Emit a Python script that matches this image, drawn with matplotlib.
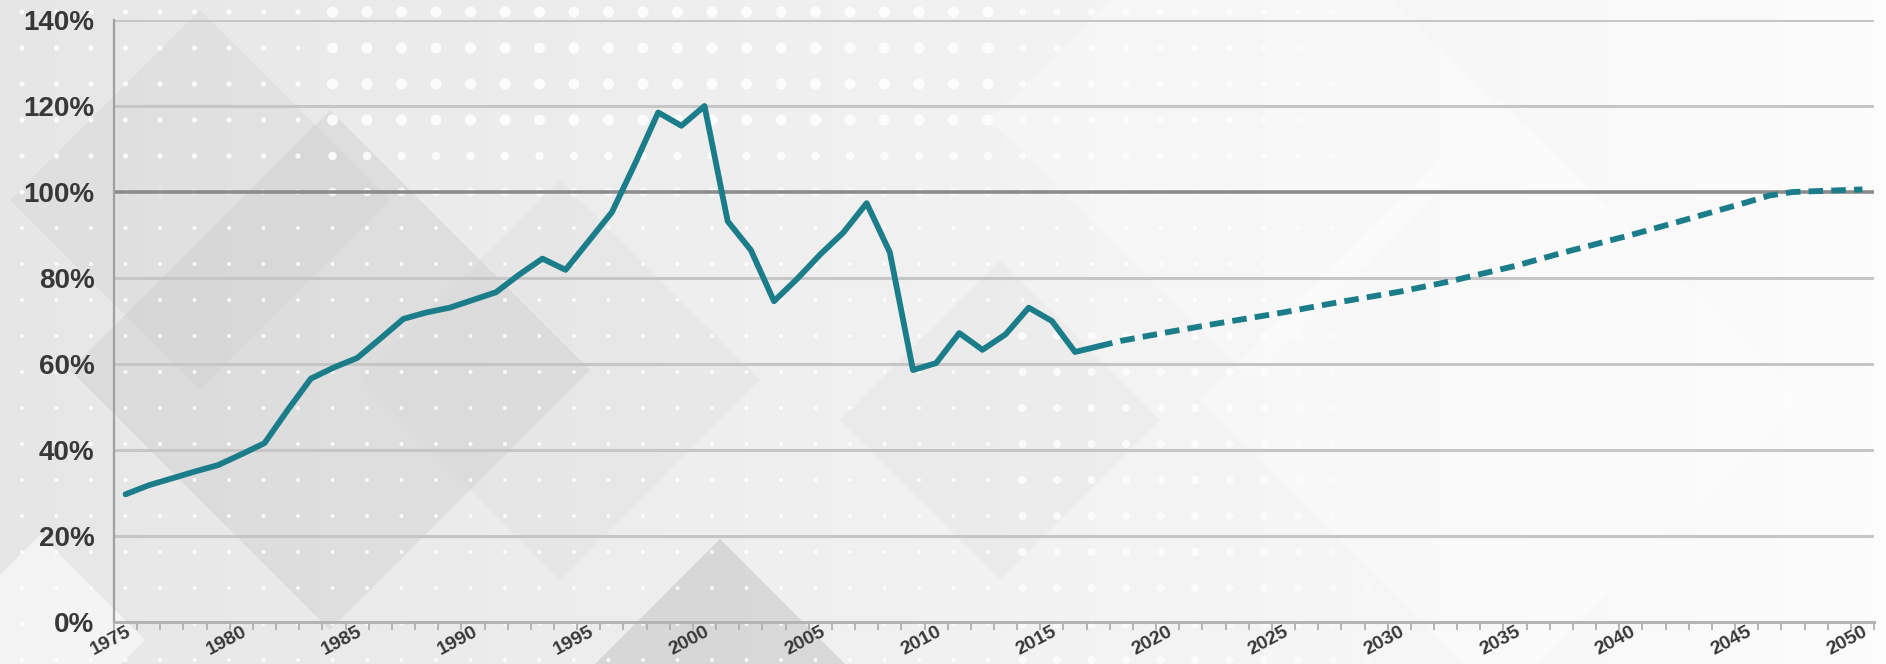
import numpy as np
import matplotlib
matplotlib.use("Agg")
import matplotlib.pyplot as plt
from matplotlib.patches import Polygon
from matplotlib.ticker import FixedLocator, FuncFormatter

plt.rcParams['font.family'] = ['Liberation Sans', 'DejaVu Sans']

# historical ratio (solid) and projection (dashed), in percent
hist_years = list(range(1975, 2018))
hist_vals = [29.7, 31.8, 33.4, 35.0, 36.5, 39.0, 41.6, 49.3, 56.6, 59.2,
             61.4, 65.9, 70.5, 72.0, 73.1, 74.9, 76.7, 80.8, 84.5, 81.9,
             88.6, 95.3, 106.6, 118.5, 115.4, 120.0, 93.2, 86.5, 74.6, 79.8,
             85.5, 90.6, 97.4, 86.0, 58.6, 60.2, 67.2, 63.3, 66.9, 73.1,
             70.0, 62.8, 64.1]
proj_years = [2017, 2018, 2020, 2022, 2025, 2027, 2030, 2032, 2035, 2037,
              2040, 2042, 2045, 2046, 2047, 2050]
proj_vals = [64.1, 65.4, 67.4, 69.3, 72.0, 74.0, 76.8, 79.0, 82.8, 85.8,
             90.0, 93.0, 97.6, 99.2, 100.0, 100.6]

yticks = [0, 20, 40, 60, 80, 100, 120, 140]
label_years = list(range(1975, 2051, 5))

W, H = 1886, 664
fig = plt.figure(figsize=(W / 100, H / 100), dpi=100)

# ---- decorative background ----
bg = fig.add_axes([0, 0, 1, 1], zorder=-5)
bg.set_xlim(0, W)
bg.set_ylim(H, 0)
bg.axis("off")
grad = np.linspace(0.90, 0.985, 256)
bg.imshow(np.tile(grad, (2, 1)), cmap="gray", vmin=0, vmax=1,
          extent=[0, W, H, 0], aspect="auto", interpolation="bicubic")


def diamond(cx, cy, r, color, alpha):
    pts = [(cx, cy - r), (cx + r, cy), (cx, cy + r), (cx - r, cy)]
    bg.add_patch(Polygon(pts, closed=True, fc=color, ec="none", alpha=alpha))


diamond(200, 200, 190, "#cfcfcf", 0.30)
diamond(330, 370, 260, "#c8c8c8", 0.35)
diamond(560, 380, 200, "#d0d0d0", 0.20)
diamond(1000, 420, 160, "#d6d6d6", 0.20)
diamond(720, 664, 125, "#bdbdbd", 0.45)
diamond(40, 640, 105, "#ffffff", 0.55)
diamond(1250, 120, 260, "#ffffff", 0.30)
diamond(1500, 400, 300, "#ffffff", 0.30)

# dot texture (white dots, bigger near the top middle)
dx, dy, dr, da = [], [], [], []
for yy in np.arange(12, 664, 36):
    for xx in np.arange(22, 1460, 34.5):
        r, a = 2.0, 0.85
        if yy < 140 and 330 < xx < 1000:
            r = 5.5
        elif yy < 210 and 330 < xx < 1000:
            r = 4.2
        elif yy < 210 and 1000 <= xx < 1250:
            r, a = 3.5, 0.7
        elif 300 < yy and 1000 <= xx:
            r, a = 4.0, 0.75
        elif yy < 210:
            r = 2.6
        if xx > 1250:
            a = max(0.0, a - (xx - 1250) / 250)
        if a <= 0.05:
            continue
        dx.append(xx); dy.append(yy); dr.append(r); da.append(a)
cols = [(1, 1, 1, a) for a in da]
bg.scatter(dx, dy, s=[2.1 * r * r for r in dr], c=cols, linewidths=0)

# ---- chart ----
ax = fig.add_axes([114 / W, 1 - 622 / H, (1874 - 114) / W, (622 - 20) / H])
ax.patch.set_alpha(0)
ax.set_xlim(1974.5, 2050.5)
ax.set_ylim(0, 140)

for v in yticks[1:]:
    if v == 100:
        ax.axhline(v, color="#8c8c8c", lw=2.6, zorder=1)
    else:
        ax.axhline(v, color="#c6c6c6", lw=2.2, zorder=1)

teal = "#1b7d89"
ax.plot(hist_years, hist_vals, color=teal, lw=4.2, solid_joinstyle="round",
        solid_capstyle="round", zorder=3)
ax.plot(proj_years, proj_vals, color=teal, lw=4.2, linestyle=(0, (2.5, 1.4)),
        zorder=3)

for side in ["top", "right"]:
    ax.spines[side].set_visible(False)
ax.spines["left"].set_color("#a0a0a0")
ax.spines["left"].set_linewidth(1.6)
ax.spines["bottom"].set_color("#b4b4b4")
ax.spines["bottom"].set_linewidth(2.2)

ax.yaxis.set_major_locator(FixedLocator(yticks))
ax.yaxis.set_major_formatter(FuncFormatter(lambda v, p: f"{v:.0f}%"))
ax.tick_params(axis="y", length=0, pad=14, labelsize=20, labelcolor="#383838")

ax.xaxis.set_major_locator(FixedLocator(label_years))
ax.xaxis.set_minor_locator(FixedLocator(np.arange(1974.5, 2051, 1)))
ax.set_xticklabels([str(y) for y in label_years])
ax.tick_params(axis="x", which="major", length=0, pad=1, labelsize=14,
               labelcolor="#383838")
ax.tick_params(axis="x", which="minor", length=6, width=1.4, color="#b4b4b4")
for lab in ax.get_xticklabels():
    lab.set_rotation(28)
    lab.set_ha("right")
    lab.set_va("top")
    lab.set_rotation_mode("anchor")
    lab.set_fontweight("bold")
for lab in ax.get_yticklabels():
    lab.set_fontweight("bold")

fig.savefig("out.png", dpi=100)
